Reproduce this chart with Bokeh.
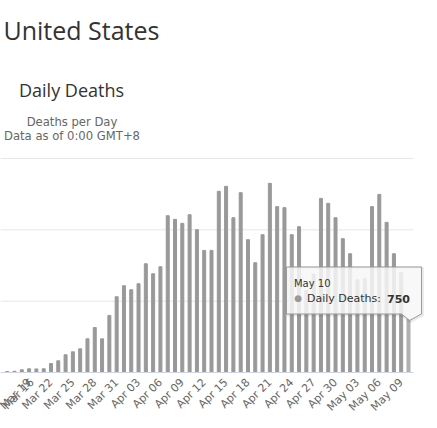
import pandas as pd
from bokeh.plotting import figure
from bokeh.models import FixedTicker, Range1d
from bokeh.core.properties import value
from bokeh.embed import file_html
from bokeh.resources import INLINE

# ---------------- data ----------------
country = "United States"
chart_title = "Daily Deaths"
subtitle_lines = ["Deaths per Day", "Data as of 0:00 GMT+8"]
series_name = "Daily Deaths"

dates = [d.strftime("%b %d") for d in pd.date_range("2020-03-16", "2020-05-10")]
daily_deaths = [14, 17, 38, 52, 50, 52, 126, 164, 248, 290, 332,
                472, 630, 472, 800, 1062, 1216, 1160, 1244, 1524, 1384, 1482,
                2198, 2147, 2091, 2212, 2002, 1712, 1712, 2540, 2610, 2170, 2521,
                1862, 1539, 1932, 2652, 2325, 2311, 1932, 2044, 1150, 1380, 2441,
                2371, 2170, 1876, 1665, 1300, 1314, 2325, 2497, 2105, 1665, 1403, 750]
tick_step = 3
grid_values = [1000, 2000, 3000]

# ---------------- layout constants ----------------
W, H = 437, 428
FRAME_BOTTOM = 372          # pixel row of the value-0 baseline
PLOT_RIGHT = 413            # right end of grid / axis line
X_START = -0.92
PPX = 7.296                 # pixels per category
PPY = 214 / 3000            # pixels per death
X_END = X_START + W / PPX
Y_END = FRAME_BOTTOM / PPY


def at(sx, sy):
    """pixel position (from the top-left of the picture) -> data coordinates"""
    return X_START + sx / PPX, (FRAME_BOTTOM - sy) / PPY


idx = list(range(len(dates)))
bar_colors = ["#999999"] * (len(idx) - 1) + ["#b0b0b0"]

p = figure(frame_width=W, frame_height=FRAME_BOTTOM, output_backend="svg",
           toolbar_location=None, x_range=Range1d(X_START, X_END),
           y_range=Range1d(0, Y_END), min_border_left=0, min_border_right=0,
           min_border_top=0, min_border_bottom=H - FRAME_BOTTOM)
p.outline_line_color = None
p.background_fill_color = "white"
p.border_fill_color = "white"

# grid lines (limited to the plot area)
grid_right = X_START + PLOT_RIGHT / PPX
p.segment(x0=[X_START] * len(grid_values), x1=[grid_right] * len(grid_values),
          y0=grid_values, y1=grid_values, line_color="#e6e6e6", line_width=1)

p.vbar(x=idx, top=daily_deaths, width=0.41, color=bar_colors)

# axes
p.yaxis.visible = False
p.ygrid.visible = False
p.xgrid.visible = False

tick_idx = idx[::tick_step]
p.xaxis.ticker = FixedTicker(ticks=tick_idx)
p.xaxis.major_label_overrides = {i: dates[i] for i in tick_idx}
p.xaxis.bounds = (X_START, grid_right)
p.xaxis.major_label_orientation = 0.785398
p.xaxis.axis_line_color = "#ccd6eb"
p.xaxis.major_tick_line_color = None
p.xaxis.minor_tick_line_color = None
p.xaxis.major_tick_out = 0
p.xaxis.major_tick_in = 0
p.xaxis.major_label_standoff = 8
p.xaxis.major_label_text_color = "#666666"
p.xaxis.major_label_text_font = "DejaVu Sans"
p.xaxis.major_label_text_font_size = "11px"

# ---------------- header texts ----------------
tx, ty = at(3, 29.5)
p.text(x=[tx], y=[ty], text=[country], text_font=value("Open Sans"),
       text_font_size="25px", text_color="#333333", text_baseline="alphabetic",
       text_align="left")
tx, ty = at(71, 89.5)
p.text(x=[tx], y=[ty], text=[chart_title], text_font=value("Open Sans"),
       text_font_size="18px", text_color="#333333", text_baseline="alphabetic",
       text_align="center")
sub_pos = [at(71.5, 121.5), at(71.5, 135.5)]
p.text(x=[q[0] for q in sub_pos], y=[q[1] for q in sub_pos], text=subtitle_lines,
       text_font=value("DejaVu Sans"), text_font_size="11.6px", text_color="#666666",
       text_baseline="alphabetic", text_align="center")

# ---------------- tooltip for the last point ----------------
ax, ay = idx[-1], daily_deaths[-1]


def off(dx, dy):
    """pixel offset (right, up) from the last bar top -> data coordinates"""
    return ax + dx / PPX, ay + dy / PPY


box_l, box_r, box_t, box_b = -122, 13, 52, 5
ptr_l, tip = -7, (1, -1.5)
pts = [(box_l, box_t), (box_r, box_t), (box_r, box_b), tip, (ptr_l, box_b), (box_l, box_b)]
shadow = [off(dx + 1, dy - 1) for dx, dy in pts]
callout = [off(dx, dy) for dx, dy in pts]

p.patch(x=[c[0] for c in shadow], y=[c[1] for c in shadow], fill_alpha=0,
        line_color="black", line_alpha=0.08, line_width=3, level="overlay")
p.patch(x=[c[0] for c in callout], y=[c[1] for c in callout], fill_color="#f7f7f7",
        fill_alpha=0.85, line_color="#999999", line_width=1, level="overlay")

p.text(x=[ax], y=[ay], text=[dates[-1]], x_offset=-114.5, y_offset=-36,
       text_font=value("DejaVu Sans"), text_font_size="10px", text_color="#333333",
       text_baseline="alphabetic", text_align="left", level="overlay")
p.text(x=[ax], y=[ay], text=["\u25cf"], x_offset=-110.3, y_offset=-21.5,
       text_font=value("DejaVu Sans"), text_font_size="9px", text_color="#999999",
       text_baseline="middle", text_align="center", level="overlay")
p.text(x=[ax], y=[ay], text=[series_name + ":"], x_offset=-101.5, y_offset=-20.5,
       text_font=value("DejaVu Sans"), text_font_size="11px", text_color="#333333",
       text_baseline="alphabetic", text_align="left", level="overlay")
p.text(x=[ax], y=[ay], text=[str(daily_deaths[-1])], x_offset=-21.5, y_offset=-20.5,
       text_font=value("DejaVu Sans"), text_font_size="11px", text_color="#333333",
       text_font_style="bold", text_baseline="alphabetic", text_align="left",
       level="overlay")

open("out.html", "w").write(file_html(p, INLINE))
